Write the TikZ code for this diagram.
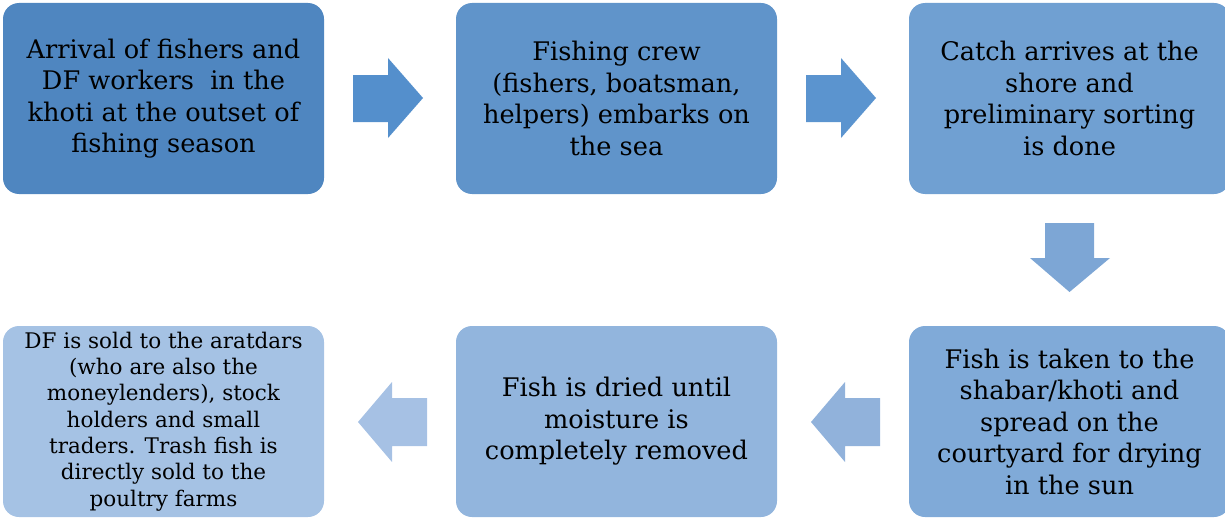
\documentclass[tikz,border=0pt]{standalone}
\usepackage{fontspec}
\setmainfont{DejaVu Serif}
\definecolor{cA}{RGB}{79,134,192}
\definecolor{cB}{RGB}{96,148,202}
\definecolor{cC}{RGB}{112,160,210}
\definecolor{cD}{RGB}{128,170,216}
\definecolor{cE}{RGB}{146,181,221}
\definecolor{cF}{RGB}{165,194,228}
\definecolor{aA}{RGB}{84,143,204}
\definecolor{aB}{RGB}{91,148,207}
\definecolor{aC}{RGB}{125,166,213}
\definecolor{aD}{RGB}{145,178,219}
\definecolor{aE}{RGB}{166,193,228}
\tikzset{
  stepbox/.style={rounded corners=16pt, minimum width=321pt, minimum height=191pt, inner sep=0pt, align=center, text=black, font=\fontsize{25.6}{31.5}\selectfont},
  smallbox/.style={stepbox, font=\fontsize{21.5}{26.3}\selectfont}
}
\begin{document}
\begin{tikzpicture}[x=1pt,y=-1pt]
\useasboundingbox (0,0) rectangle (1225,519);
\begin{scope}
\clip (0,0) rectangle (1225,519);
\node[stepbox, fill=cA] (b1) at (163.5,98.5) {Arrival of fishers and\\DF workers\ \ in the\\khoti at the outset of\\fishing season};
\node[stepbox, fill=cB] (b2) at (616.5,98.5) {Fishing crew\\(fishers, boatsman,\\helpers) embarks on\\the sea};
\node[stepbox, fill=cC] (b3) at (1069.5,98.5) {Catch arrives at the\\shore and\\preliminary sorting\\is done};
\node[stepbox, fill=cD] (b4) at (1069.5,421.5) {Fish is taken to the\\shabar/khoti and\\spread on the\\courtyard for drying\\in the sun};
\node[stepbox, fill=cE] (b5) at (616.5,421.5) {Fish is dried until\\moisture is\\completely removed};
\node[smallbox, fill=cF] (b6) at (163.5,421.5) {DF is sold to the aratdars\\(who are also the\\moneylenders), stock\\holders and small\\traders. Trash fish is\\directly sold to the\\poultry farms};
\end{scope}
% arrows
\fill[aA] (353,75) -- (388,75) -- (388,58) -- (423,98) -- (388,138) -- (388,122) -- (353,122) -- cycle;
\fill[aB] (806,75) -- (841,75) -- (841,58) -- (876,98) -- (841,138) -- (841,122) -- (806,122) -- cycle;
\fill[aC] (1045,223) -- (1094,223) -- (1094,258) -- (1110,258) -- (1069.5,292) -- (1030,258) -- (1045,258) -- cycle;
\fill[aD] (880,398) -- (845,398) -- (845,382) -- (811,422) -- (845,462) -- (845,446) -- (880,446) -- cycle;
\fill[aE] (427,398) -- (392,398) -- (392,382) -- (358,422) -- (392,462) -- (392,446) -- (427,446) -- cycle;
\end{tikzpicture}
\end{document}
